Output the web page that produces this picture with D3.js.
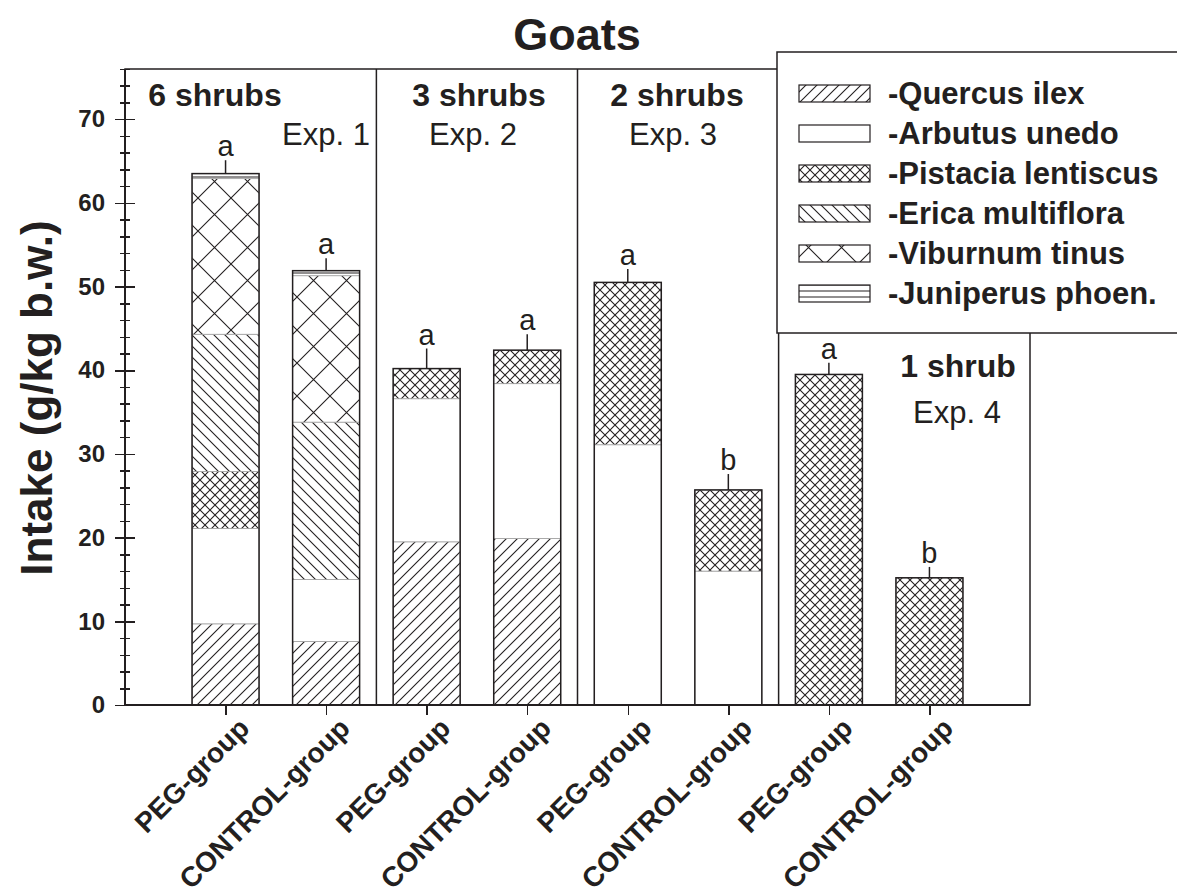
<!DOCTYPE html>
<meta charset="utf-8">
<script src="https://d3js.org/d3.v7.min.js"></script>
<style>
  body { margin: 0; background: #fff; }
  text { font-family: "Liberation Sans", Arial, Helvetica, sans-serif; fill: #231f20; }
  .axis path, .axis line { stroke: #231f20; stroke-width: 1.5px; shape-rendering: crispEdges; }
  .axis text { font-size: 24px; font-weight: bold; }
</style>
<body>
<div id="chart"></div>
<script>
// species in stacking order (bottom to top)
var species = ["Quercus ilex", "Arbutus unedo", "Pistacia lentiscus", "Erica multiflora", "Viburnum tinus", "Juniperus phoen."];
var groups = ["PEG-group", "CONTROL-group", "PEG-group", "CONTROL-group", "PEG-group", "CONTROL-group", "PEG-group", "CONTROL-group"];
var shrubLabels = ["6 shrubs", "3 shrubs", "2 shrubs", "1 shrub"];
var expLabels = ["Exp. 1", "Exp. 2", "Exp. 3", "Exp. 4"];

// intake per species for each bar (g/kg b.w.)
var quercus   = [9.7, 7.6, 19.5, 19.9, 0, 0, 0, 0];
var arbutus   = [11.4, 7.4, 17.1, 18.5, 31.1, 16.0, 0, 0];
var pistacia  = [6.8, 0, 3.6, 4.0, 19.4, 9.7, 39.5, 15.2];
var erica     = [16.4, 18.8, 0, 0, 0, 0, 0, 0];
var viburnum  = [18.6, 17.5, 0, 0, 0, 0, 0, 0];
var juniperus = [0.6, 0.6, 0, 0, 0, 0, 0, 0];
var errors  = [1.6, 1.5, 2.4, 1.9, 1.6, 1.9, 1.4, 1.3];
var letters = ["a", "a", "a", "a", "a", "b", "a", "b"];

var yMajor = [0, 10, 20, 30, 40, 50, 60, 70];
var yMinor = d3.range(0, 77, 2);

var width = 1177, height = 890;
var plotL = 125, plotR = 1030, plotT = 69, plotB = 705;

var svg = d3.select("#chart").append("svg")
    .attr("width", width)
    .attr("height", height);

var series = [quercus, arbutus, pistacia, erica, viburnum, juniperus];
var rows = groups.map(function(g, i) {
  var r = { idx: i };
  species.forEach(function(s, k) { r[s] = series[k][i]; });
  return r;
});
var stacked = d3.stack().keys(species)(rows);
var totals = rows.map(function(r) { return d3.sum(species, function(s) { return r[s]; }); });

var x = d3.scalePoint()
    .domain(d3.range(groups.length))
    .range([plotL, plotR])
    .padding(1);
var y = d3.scaleLinear().domain([0, 76]).range([plotB, plotT]);
var barW = 67;

// hatch patterns
var defs = svg.append("defs");
function hatch(id, size, d, sw) {
  var p = defs.append("pattern")
      .attr("id", id)
      .attr("patternUnits", "userSpaceOnUse")
      .attr("width", size).attr("height", size);
  p.append("rect").attr("width", size).attr("height", size).attr("fill", "#fff");
  p.append("path").attr("d", d).attr("stroke", "#231f20").attr("stroke-width", sw).attr("fill", "none");
}
var s1 = 11, s2 = 10, s3 = 33;
hatch("p0", s1, "M0," + s1 + "L" + s1 + ",0M-2,2L2,-2M" + (s1 - 2) + "," + (s1 + 2) + "L" + (s1 + 2) + "," + (s1 - 2), 1.1);
defs.append("pattern").attr("id", "p1").attr("patternUnits", "userSpaceOnUse")
    .attr("width", 10).attr("height", 10)
  .append("rect").attr("width", 10).attr("height", 10).attr("fill", "#fff");
hatch("p2", s2, "M0," + s2 + "L" + s2 + ",0M0,0L" + s2 + "," + s2, 1.1);
hatch("p3", s1, "M0,0L" + s1 + "," + s1 + "M-2," + (s1 - 2) + "L2," + (s1 + 2) + "M" + (s1 - 2) + ",-2L" + (s1 + 2) + ",2", 1.1);
hatch("p4", s3, "M0," + s3 + "L" + s3 + ",0M0,0L" + s3 + "," + s3, 1.1);
hatch("p5", 6, "M0,3L6,3", 1);

// plot frame
svg.append("rect")
    .attr("x", plotL).attr("y", plotT)
    .attr("width", plotR - plotL).attr("height", plotB - plotT)
    .attr("fill", "none").attr("stroke", "#231f20").attr("stroke-width", 1.5);

// separators between experiments
var step = x.step();
[1, 3, 5].forEach(function(i) {
  svg.append("line")
      .attr("x1", x(i) + step / 2).attr("x2", x(i) + step / 2)
      .attr("y1", plotT).attr("y2", plotB)
      .attr("stroke", "#231f20").attr("stroke-width", 1.5);
});

// stacked bars
var layer = svg.append("g").selectAll("g")
  .data(stacked)
  .enter().append("g")
    .attr("fill", function(d, k) { return "url(#p" + k + ")"; });
layer.selectAll("rect")
  .data(function(d) { return d.filter(function(e) { return e[1] - e[0] > 0; }); })
  .enter().append("rect")
    .attr("x", function(d) { return x(d.data.idx) - barW / 2; })
    .attr("y", function(d) { return y(d[1]); })
    .attr("width", barW)
    .attr("height", function(d) { return y(d[0]) - y(d[1]); })
    .attr("stroke", "#a0a0a0")
    .attr("stroke-width", 0.8);

// bar outlines
svg.append("g").selectAll("rect")
  .data(totals)
  .enter().append("rect")
    .attr("x", function(d, i) { return x(i) - barW / 2; })
    .attr("y", function(d) { return y(d); })
    .attr("width", barW)
    .attr("height", function(d) { return y(0) - y(d); })
    .attr("fill", "none")
    .attr("stroke", "#231f20")
    .attr("stroke-width", 1.5);

// error lines and letters
svg.append("g").selectAll("line")
  .data(totals)
  .enter().append("line")
    .attr("x1", function(d, i) { return x(i); })
    .attr("x2", function(d, i) { return x(i); })
    .attr("y1", function(d) { return y(d); })
    .attr("y2", function(d, i) { return y(d + errors[i]); })
    .attr("stroke", "#231f20").attr("stroke-width", 1.5);
svg.append("g").selectAll("text")
  .data(totals)
  .enter().append("text")
    .attr("x", function(d, i) { return x(i); })
    .attr("y", function(d, i) { return y(d + errors[i]) - 4; })
    .attr("text-anchor", "middle")
    .style("font-size", "29px")
    .text(function(d, i) { return letters[i]; });

// axes
var yAxisL = svg.append("g").attr("class", "axis").attr("transform", "translate(" + plotL + ",0)");
yAxisL.call(d3.axisLeft(y).tickValues(yMajor).tickSize(10).tickPadding(10).tickFormat(d3.format("d")));
yAxisL.append("g").call(d3.axisLeft(y).tickValues(yMinor).tickSize(5).tickFormat(""));
yAxisL.append("g").call(d3.axisRight(y).tickValues(yMajor).tickSize(10).tickFormat(""));
yAxisL.append("g").call(d3.axisRight(y).tickValues(yMinor).tickSize(5).tickFormat(""));
yAxisL.selectAll(".domain").attr("d", "M0," + plotB + "V" + plotT);

var xAxis = svg.append("g").attr("class", "axis").attr("transform", "translate(0," + plotB + ")");
xAxis.call(d3.axisBottom(x).tickSize(10).tickFormat(""));
xAxis.select(".domain").attr("d", "M" + plotL + ",0H" + plotR);
xAxis.selectAll(".tick").append("text")
    .attr("transform", "translate(25,25) rotate(-45)")
    .attr("text-anchor", "end")
    .style("font-size", "28px")
    .text(function(d) { return groups[d]; });

// experiment labels
var labelPos = [
  { sx: 215, sy: 106, ex: 326, ey: 145 },
  { sx: 479, sy: 106, ex: 473, ey: 145 },
  { sx: 677, sy: 106, ex: 673, ey: 145 },
  { sx: 958, sy: 377, ex: 957, ey: 423 }
];
labelPos.forEach(function(p, i) {
  svg.append("text").attr("x", p.sx).attr("y", p.sy).attr("text-anchor", "middle")
      .style("font-size", "32px").style("font-weight", "bold").text(shrubLabels[i]);
  svg.append("text").attr("x", p.ex).attr("y", p.ey).attr("text-anchor", "middle")
      .style("font-size", "31px").text(expLabels[i]);
});

// legend
var lg = svg.append("g");
lg.append("rect")
    .attr("x", 777).attr("y", 52).attr("width", 420).attr("height", 281)
    .attr("fill", "#fff").attr("stroke", "#231f20").attr("stroke-width", 1.5);
species.forEach(function(s, k) {
  var by = 104 + k * 40;
  lg.append("rect")
      .attr("x", 799).attr("y", by - 19).attr("width", 71).attr("height", 17)
      .attr("fill", "url(#p" + k + ")").attr("stroke", "#231f20").attr("stroke-width", 1.2);
  lg.append("text")
      .attr("x", 888).attr("y", by)
      .style("font-size", "31px").style("font-weight", "bold")
      .text("-" + s);
});

// title and y label
svg.append("text").attr("x", 577).attr("y", 50).attr("text-anchor", "middle")
    .style("font-size", "45px").style("font-weight", "bold").text("Goats");
svg.append("text")
    .attr("transform", "translate(52,398) rotate(-90)")
    .attr("text-anchor", "middle")
    .style("font-size", "44px").style("font-weight", "bold")
    .text("Intake (g/kg b.w.)");
</script>
</body>
